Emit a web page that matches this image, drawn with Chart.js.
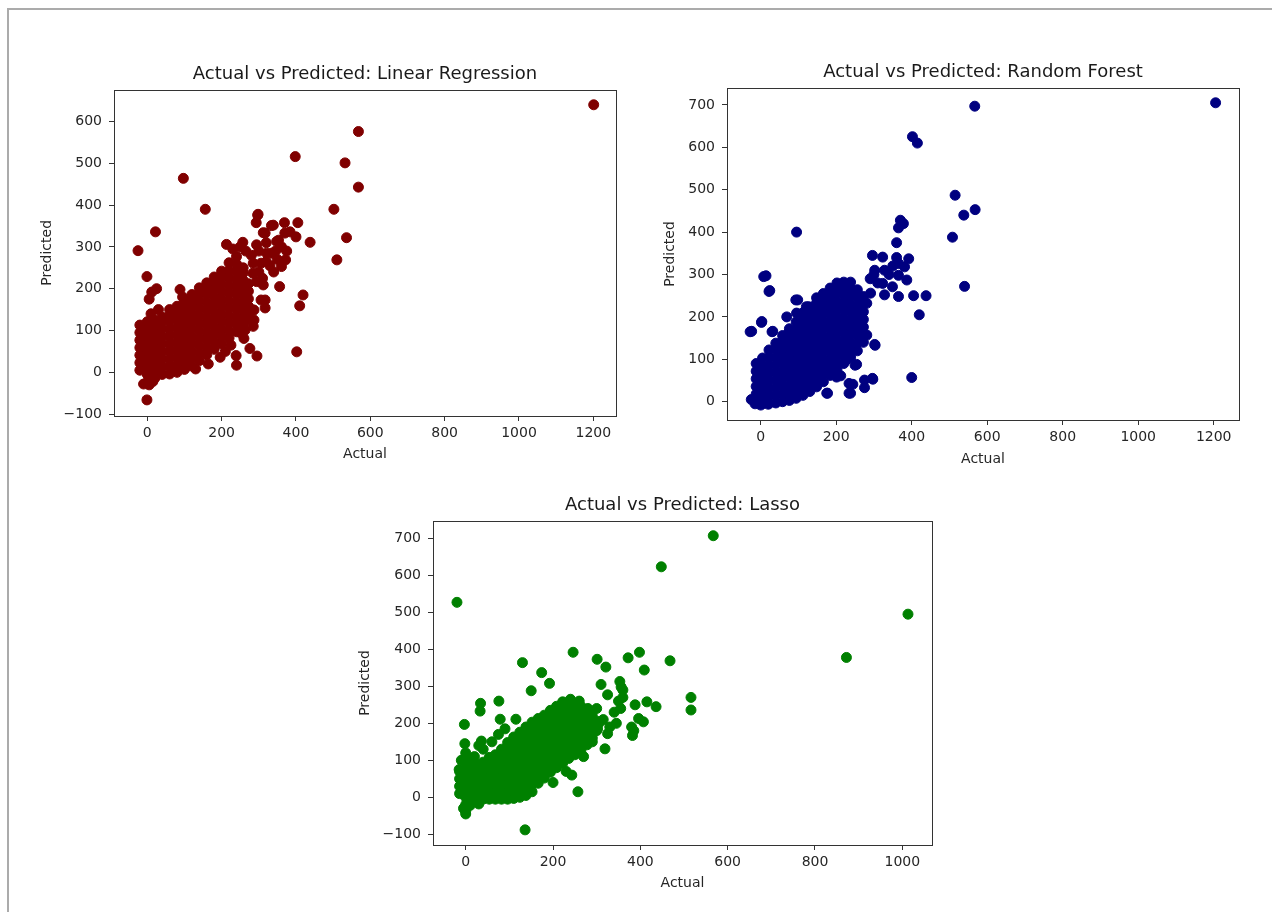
<!DOCTYPE html>
<html>
<head>
<meta charset="utf-8">
<script src="https://cdn.jsdelivr.net/npm/chart.js@4.4.1/dist/chart.umd.min.js"></script>
<style>
html,body{margin:0;padding:0;background:#fff;overflow:hidden;width:1272px;height:912px;}
#frame{position:absolute;left:7px;top:8px;width:1300px;height:940px;border-top:2px solid #ababab;border-left:2px solid #ababab;}
canvas{position:absolute;}
</style>
</head>
<body>
<div id="frame"></div>
<canvas id="c1" width="652" height="399" style="left:39px;top:64px;"></canvas>
<canvas id="c2" width="642" height="406" style="left:662px;top:62px;"></canvas>
<canvas id="c3" width="651" height="397" style="left:357px;top:495px;"></canvas>
<script>
// ---------- data ----------
const chartTitles = ['Actual vs Predicted: Linear Regression', 'Actual vs Predicted: Random Forest', 'Actual vs Predicted: Lasso'];
const xAxisLabel = 'Actual';
const yAxisLabel = 'Predicted';
const linearXTicks = [0, 200, 400, 600, 800, 1000, 1200];
const linearYTicks = [-100, 0, 100, 200, 300, 400, 500, 600];
const forestXTicks = [0, 200, 400, 600, 800, 1000, 1200];
const forestYTicks = [0, 100, 200, 300, 400, 500, 600, 700];
const lassoXTicks = [0, 200, 400, 600, 800, 1000];
const lassoYTicks = [-100, 0, 100, 200, 300, 400, 500, 600, 700];

// Linear Regression: [actual, predicted]
const linearPoints = [
 [-20,5],[-20,23],[-20,41],[-20,59],[-20,77],[-20,95],[-20,113],
 [0,-23],[0,-5],[0,13],[0,31],[0,49],[0,67],[0,85],[0,103],[0,121],
 [20,-14],[20,4],[20,22],[20,40],[20,58],[20,76],[20,94],[20,112],[20,125],
 [40,-5],[40,13],[40,31],[40,49],[40,67],[40,85],[40,103],[40,121],[40,132],
 [60,-4],[60,14],[60,32],[60,50],[60,68],[60,86],[60,104],[60,122],[60,135],
 [80,0],[80,18],[80,36],[80,54],[80,72],[80,90],[80,108],[80,126],[80,144],[80,158],
 [100,7],[100,25],[100,43],[100,61],[100,79],[100,97],[100,115],[100,133],[100,151],[100,169],
 [120,15],[120,33],[120,51],[120,69],[120,87],[120,105],[120,123],[120,141],[120,159],[120,177],[120,186],
 [140,28],[140,46],[140,64],[140,82],[140,100],[140,118],[140,136],[140,154],[140,172],[140,190],[140,202],
 [160,42],[160,60],[160,78],[160,96],[160,114],[160,132],[160,150],[160,168],[160,186],[160,204],[160,214],
 [180,55],[180,73],[180,91],[180,109],[180,127],[180,145],[180,163],[180,181],[180,199],[180,217],[180,228],
 [200,68],[200,86],[200,104],[200,122],[200,140],[200,158],[200,176],[200,194],[200,212],[200,230],[200,242],
 [220,82],[220,100],[220,118],[220,136],[220,154],[220,172],[220,190],[220,208],[220,226],[220,244],[220,262],
 [240,97],[240,115],[240,133],[240,151],[240,169],[240,187],[240,205],[240,223],[240,241],[240,259],[240,277],
 [258,112],[258,130],[258,148],[258,166],[258,184],[258,202],[258,220],[258,238],[258,250],
 [272,140],[272,158],[272,176],[272,194],[272,212],
 [-25,291],[22,336],[-1,229],[-1,-66],[97,464],[156,390],[398,516],[532,501],[568,576],[568,443],
 [502,390],[536,322],[510,269],[1201,640],[402,49],
 [-10,-28],[5,-30],[15,-22],[10,140],[5,175],[12,192],[25,200],[88,198],[60,150],[95,180],[30,150],
 [260,81],[239,40],[240,17],[276,57],[295,39],[196,36],[164,20],[130,8],[210,50],[225,65],[250,95],
 [285,110],[270,125],[263,101],[287,125],[284,149],[317,154],[306,173],[361,253],[284,237],[306,261],
 [334,285],[372,269],[361,300],[317,333],[257,311],[213,306],[298,378],[293,358],[334,351],[369,358],
 [405,358],[384,336],[400,324],[438,311],[353,316],[356,205],[419,185],[410,159],[297,376],[339,352],
 [312,334],[348,313],[294,305],[321,285],[370,333],[285,261],[294,217],[312,209],[317,173],[287,149],
 [300,240],[310,225],[320,265],[330,255],[340,240],[345,290],[300,290],[280,280],[265,290],[250,300],
 [230,295],[320,310],[350,270],[375,290]
];

// Random Forest: [actual, predicted]
const forestPoints = [
 [-12,0],[-12,18],[-12,36],[-12,54],[-12,72],[-12,90],
 [5,-5],[5,13],[5,31],[5,49],[5,67],[5,85],[5,103],
 [22,-4],[22,14],[22,32],[22,50],[22,68],[22,86],[22,104],[22,122],
 [40,-3],[40,15],[40,33],[40,51],[40,69],[40,87],[40,105],[40,123],[40,138],
 [58,0],[58,18],[58,36],[58,54],[58,72],[58,90],[58,108],[58,126],[58,144],[58,156],
 [76,3],[76,21],[76,39],[76,57],[76,75],[76,93],[76,111],[76,129],[76,147],[76,165],[76,172],
 [94,8],[94,26],[94,44],[94,62],[94,80],[94,98],[94,116],[94,134],[94,152],[94,170],[94,188],
 [112,15],[112,33],[112,51],[112,69],[112,87],[112,105],[112,123],[112,141],[112,159],[112,177],[112,195],[112,210],
 [130,24],[130,42],[130,60],[130,78],[130,96],[130,114],[130,132],[130,150],[130,168],[130,186],[130,204],[130,222],
 [148,35],[148,53],[148,71],[148,89],[148,107],[148,125],[148,143],[148,161],[148,179],[148,197],[148,215],[148,233],[148,245],
 [166,47],[166,65],[166,83],[166,101],[166,119],[166,137],[166,155],[166,173],[166,191],[166,209],[166,227],[166,245],[166,255],
 [184,62],[184,80],[184,98],[184,116],[184,134],[184,152],[184,170],[184,188],[184,206],[184,224],[184,242],[184,260],[184,268],
 [202,75],[202,93],[202,111],[202,129],[202,147],[202,165],[202,183],[202,201],[202,219],[202,237],[202,255],[202,273],[202,280],
 [220,90],[220,108],[220,126],[220,144],[220,162],[220,180],[220,198],[220,216],[220,234],[220,252],[220,270],[220,282],
 [238,105],[238,123],[238,141],[238,159],[238,177],[238,195],[238,213],[238,231],[238,249],[238,267],[238,282],
 [256,120],[256,138],[256,156],[256,174],[256,192],[256,210],[256,228],[256,246],[256,264],
 [272,140],[272,158],[272,176],[272,194],[272,212],[272,230],[272,248],
 [1205,705],[567,697],[402,625],[415,610],[515,487],[538,440],[568,453],[508,388],[540,272],
 [370,428],[378,420],[365,410],[360,375],[95,400],[8,295],[22,260],[-28,165],[2,187],[30,165],
 [400,57],[420,205],[405,250],[438,250],
 [-25,5],[-15,-5],[0,-8],[20,-6],
 [201,58],[234,43],[234,20],[275,51],[297,53],[175,20],[250,86],[228,99],[303,133],[281,157],
 [265,189],[302,135],[228,108],[254,88],[212,61],[244,41],[238,20],[275,33],[296,55],[177,20],
 [365,248],[296,345],[323,341],[302,310],[328,310],[365,326],[381,318],[392,337],[387,287],[365,298],
 [349,271],[328,252],[291,256],[281,232],[323,279],[290,290],[310,280],[300,300],[340,300],[350,320],[360,340],
 [69,200],[95,209],[93,240],[121,224],[127,224],[98,240],[14,297],[24,262],[-24,166],[3,189],[32,166]
];

// Lasso: [actual, predicted]
const lassoPoints = [
 [-14,10],[-14,30],[-14,50],[-14,70],
 [0,-38],[0,-20],[0,0],[0,20],[0,40],[0,60],[0,80],[0,95],
 [12,-15],[12,5],[12,25],[12,45],[12,65],[12,82],
 [26,-10],[26,10],[26,30],[26,50],[26,70],[26,88],
 [40,-5],[40,15],[40,35],[40,55],[40,75],[40,95],
 [54,-5],[54,15],[54,35],[54,55],[54,75],[54,95],[54,108],
 [68,-5],[68,15],[68,35],[68,55],[68,75],[68,95],[68,115],
 [82,-5],[82,15],[82,35],[82,55],[82,75],[82,95],[82,115],[82,130],
 [96,-5],[96,15],[96,35],[96,55],[96,75],[96,95],[96,115],[96,135],[96,148],
 [110,-3],[110,17],[110,37],[110,57],[110,77],[110,97],[110,117],[110,137],[110,157],[110,163],
 [124,0],[124,20],[124,40],[124,60],[124,80],[124,100],[124,120],[124,140],[124,160],[124,176],
 [138,5],[138,25],[138,45],[138,65],[138,85],[138,105],[138,125],[138,145],[138,165],[138,185],[138,190],
 [152,15],[152,35],[152,55],[152,75],[152,95],[152,115],[152,135],[152,155],[152,175],[152,195],[152,203],
 [166,38],[166,58],[166,78],[166,98],[166,118],[166,138],[166,158],[166,178],[166,198],[166,213],
 [180,52],[180,72],[180,92],[180,112],[180,132],[180,152],[180,172],[180,192],[180,212],[180,222],
 [194,68],[194,88],[194,108],[194,128],[194,148],[194,168],[194,188],[194,208],[194,228],[194,235],
 [208,80],[208,100],[208,120],[208,140],[208,160],[208,180],[208,200],[208,220],[208,240],[208,246],
 [222,92],[222,112],[222,132],[222,152],[222,172],[222,192],[222,212],[222,232],[222,250],[222,258],
 [236,105],[236,125],[236,145],[236,165],[236,185],[236,205],[236,225],[236,245],[236,258],
 [250,115],[250,135],[250,155],[250,175],[250,195],[250,215],[250,235],[250,252],
 [264,128],[264,148],[264,168],[264,188],[264,208],[264,228],[264,246],
 [278,142],[278,162],[278,182],[278,202],[278,222],[278,238],
 [290,160],[290,180],[290,200],[290,220],
 [302,185],[302,205],
 [-20,527],[448,623],[567,707],[1013,495],[872,378],[136,-88],
 [0,-45],[-5,-30],[10,-22],[30,-18],[0,120],[-2,145],[-3,197],[34,254],[33,233],[76,260],[79,211],[115,211],
 [130,364],[174,337],[192,308],[150,288],[246,392],[301,373],[321,352],[310,305],[325,277],[353,313],
 [356,298],[360,290],[372,377],[398,392],[409,344],[468,369],[415,258],[436,245],[388,250],[396,213],
 [407,204],[380,190],[382,167],[325,172],[319,131],[243,60],[257,15],[516,270],[516,236],
 [200,40],[230,70],[270,110],[290,150],[300,180],[305,200],[280,240],[260,260],[240,265],[300,240],
 [350,260],[340,230],[355,240],[360,270],[345,200],[330,190],[315,210],[385,180],
 [60,150],[75,170],[90,185],[40,130],[20,110],[8,100],[-10,100],[-15,75],[30,140],[36,152]
];

const seriesColors = ['#800000', '#000080', '#008000'];

// ---------- chart builder ----------
const FONT = 'DejaVu Sans, Liberation Sans, sans-serif';
const TEXT = '#262626';
const EDGE = '#333333';
const fmt = v => (v < 0 ? '\u2212' + Math.abs(v) : String(v));

const boxPlugin = {
  id: 'box',
  afterDatasetsDraw(chart) {
    const a = chart.chartArea, ctx = chart.ctx;
    ctx.save();
    ctx.strokeStyle = EDGE;
    ctx.lineWidth = 1;
    ctx.strokeRect(Math.round(a.left) + 0.5, Math.round(a.top) + 0.5,
                   Math.round(a.right) - Math.round(a.left), Math.round(a.bottom) - Math.round(a.top));
    ctx.restore();
  }
};

function makeChart(id, cfg) {
  const pts = cfg.points.map(p => ({x: p[0], y: p[1]}));
  return new Chart(document.getElementById(id), {
    type: 'scatter',
    data: { datasets: [{ data: pts, backgroundColor: cfg.color, borderColor: cfg.color,
                         borderWidth: 1, pointRadius: 5, pointHoverRadius: 5 }] },
    options: {
      responsive: false, animation: false, events: [],
      layout: { padding: 0 },
      plugins: {
        legend: { display: false }, tooltip: { enabled: false },
        title: { display: true, text: cfg.title, color: '#1a1a1a',
                 font: { family: FONT, size: 18, weight: 'normal' },
                 padding: { top: 0, bottom: cfg.titlePad } }
      },
      scales: {
        x: {
          type: 'linear', min: cfg.xMin, max: cfg.xMax,
          afterBuildTicks: s => { s.ticks = cfg.xTicks.map(v => ({ value: v })); },
          afterFit: s => { s.height = cfg.xHeight; },
          grid: { display: true, drawOnChartArea: false, drawTicks: true, tickLength: 5, tickColor: EDGE, lineWidth: 1 },
          border: { display: false },
          ticks: { padding: 4, color: TEXT, font: { family: FONT, size: 14 }, maxRotation: 0, autoSkip: false, callback: fmt },
          title: { display: true, text: xAxisLabel, color: TEXT, font: { family: FONT, size: 14 }, padding: 0 }
        },
        y: {
          type: 'linear', min: cfg.yMin, max: cfg.yMax,
          afterBuildTicks: s => { s.ticks = cfg.yTicks.map(v => ({ value: v })); },
          afterFit: s => { s.width = cfg.yWidth; },
          grid: { display: true, drawOnChartArea: false, drawTicks: true, tickLength: 5, tickColor: EDGE, lineWidth: 1 },
          border: { display: false },
          ticks: { padding: 7, color: TEXT, font: { family: FONT, size: 14 }, autoSkip: false, callback: fmt },
          title: { display: true, text: yAxisLabel, color: TEXT, font: { family: FONT, size: 14 }, padding: 0 }
        },
        // empty spacer on the right so the title centres over the plot box
        spacer: {
          type: 'linear', position: 'right', min: 0, max: 1,
          afterFit: s => { s.width = cfg.yWidth; },
          grid: { display: false, drawTicks: false },
          border: { display: false },
          ticks: { display: false },
          title: { display: false }
        }
      }
    },
    plugins: [boxPlugin]
  });
}

makeChart('c1', { title: chartTitles[0], points: linearPoints, color: seriesColors[0],
  xTicks: linearXTicks, yTicks: linearYTicks,
  xMin: -89.6, xMax: 1261, yMin: -104.5, yMax: 676.3,
  yWidth: 75, xHeight: 47, titlePad: 4 });

makeChart('c2', { title: chartTitles[1], points: forestPoints, color: seriesColors[1],
  xTicks: forestXTicks, yTicks: forestYTicks,
  xMin: -89.3, xMax: 1267, yMin: -43.2, yMax: 739.9,
  yWidth: 65, xHeight: 48, titlePad: 4.4 });

makeChart('c3', { title: chartTitles[2], points: lassoPoints, color: seriesColors[2],
  xTicks: lassoXTicks, yTicks: lassoYTicks,
  xMin: -74.9, xMax: 1068, yMin: -128.9, yMax: 746.8,
  yWidth: 76, xHeight: 47, titlePad: 4.4 });
</script>
</body>
</html>
